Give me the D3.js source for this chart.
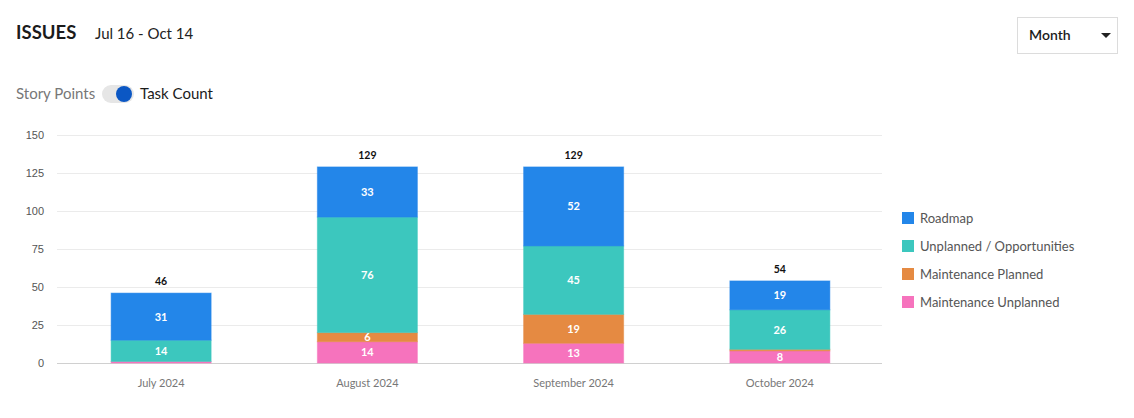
<!DOCTYPE html>
<html>
<head>
<meta charset="utf-8">
<script src="https://cdn.jsdelivr.net/npm/d3@7"></script>
<style>
  body { margin: 0; background: #fff; }
  svg { display: block; }
</style>
</head>
<body>
<div id="demo"></div>
<script>
// data
var months = ["July 2024", "August 2024", "September 2024", "October 2024"];
var seriesNames = ["Maintenance Unplanned", "Maintenance Planned", "Unplanned / Opportunities", "Roadmap"];
var maintenanceUnplanned = [1, 14, 13, 8];
var maintenancePlanned = [0, 6, 19, 1];
var unplannedOpportunities = [14, 76, 45, 26];
var roadmap = [31, 33, 52, 19];
var yTicks = [0, 25, 50, 75, 100, 125, 150];
var legendOrder = ["Roadmap", "Unplanned / Opportunities", "Maintenance Planned", "Maintenance Unplanned"];

var colors = {
  "Roadmap": "#2386e9",
  "Unplanned / Opportunities": "#3cc7be",
  "Maintenance Planned": "#e58a42",
  "Maintenance Unplanned": "#f673bd"
};

var values = {
  "Maintenance Unplanned": maintenanceUnplanned,
  "Maintenance Planned": maintenancePlanned,
  "Unplanned / Opportunities": unplannedOpportunities,
  "Roadmap": roadmap
};

// table for the stack
var table = months.map(function(m, i) {
  var row = { month: m };
  seriesNames.forEach(function(s) { row[s] = values[s][i]; });
  return row;
});

var font = "Lato, 'Noto Sans', sans-serif";

var svg = d3.select("#demo").append("svg")
  .attr("width", 1134)
  .attr("height", 418);

// header
svg.append("text")
  .attr("x", 16).attr("y", 39)
  .attr("font-family", font).attr("font-size", 18.5).attr("font-weight", 700)
  .attr("fill", "#1b1b1b")
  .text("ISSUES");
svg.append("text")
  .attr("x", 95).attr("y", 39)
  .attr("font-family", font).attr("font-size", 15)
  .attr("fill", "#222")
  .text("Jul 16 - Oct 14");

// toggle
svg.append("text")
  .attr("x", 16).attr("y", 99)
  .attr("font-family", font).attr("font-size", 15)
  .attr("fill", "#777")
  .text("Story Points");
svg.append("rect")
  .attr("x", 102).attr("y", 85)
  .attr("width", 32).attr("height", 18).attr("rx", 9)
  .attr("fill", "#e6e6e6");
svg.append("circle")
  .attr("cx", 124).attr("cy", 94).attr("r", 8)
  .attr("fill", "#0b57c4");
svg.append("text")
  .attr("x", 140).attr("y", 99)
  .attr("font-family", font).attr("font-size", 15)
  .attr("fill", "#1b1b1b")
  .text("Task Count");

// dropdown
svg.append("rect")
  .attr("x", 1017.5).attr("y", 17.5)
  .attr("width", 100).attr("height", 36)
  .attr("fill", "#fff").attr("stroke", "#dcdcdc");
svg.append("text")
  .attr("x", 1029).attr("y", 40)
  .attr("font-family", font).attr("font-size", 14).attr("font-weight", 600)
  .attr("fill", "#1b1b1b")
  .text("Month");
svg.append("path")
  .attr("d", "M1101,33 L1111,33 L1106,38 Z")
  .attr("fill", "#222");

// scales
var x = d3.scaleBand()
  .domain(months)
  .range([58, 883])
  .paddingInner(0.515)
  .paddingOuter(0.2575);

var y = d3.scaleLinear()
  .domain([0, 150])
  .range([363, 135]);

// grid
svg.append("g")
  .selectAll("line")
  .data(yTicks)
  .enter()
  .append("line")
  .attr("x1", 57).attr("x2", 882)
  .attr("y1", function(d) { return y(d) + 0.5; })
  .attr("y2", function(d) { return y(d) + 0.5; })
  .attr("stroke", function(d) { return d === 0 ? "#d0d0d0" : "#ebebeb"; })
  .attr("stroke-width", 1);

// y axis labels
var yAxis = svg.append("g")
  .attr("transform", "translate(52,0)")
  .call(d3.axisLeft(y).tickValues(yTicks).tickSize(0).tickPadding(8));
yAxis.select(".domain").remove();
yAxis.selectAll("text")
  .attr("font-family", "'Liberation Sans', Arial, sans-serif")
  .attr("font-size", 11)
  .attr("fill", "#555");

// x axis labels
var xAxis = svg.append("g")
  .attr("transform", "translate(0,373)")
  .call(d3.axisBottom(x).tickSize(0).tickPadding(6));
xAxis.select(".domain").remove();
xAxis.selectAll("text")
  .attr("font-family", font)
  .attr("font-size", 11)
  .attr("fill", "#777");

// stacked bars
var stack = d3.stack().keys(seriesNames);
var layers = stack(table);

var layer = svg.selectAll(".layer")
  .data(layers)
  .enter()
  .append("g")
  .attr("class", "layer")
  .attr("fill", function(d) { return colors[d.key]; })
  .attr("stroke", function(d) { return colors[d.key]; });

layer.selectAll("rect")
  .data(function(d) { return d; })
  .enter()
  .append("rect")
  .attr("x", function(d) { return x(d.data.month); })
  .attr("y", function(d) { return y(d[1]); })
  .attr("width", x.bandwidth())
  .attr("height", function(d) { return y(d[0]) - y(d[1]); })
  .attr("stroke-opacity", 0.5)
  .attr("stroke-width", function(d) { return (d[1] - d[0]) > 0 ? 1 : 0; });

// segment labels
layer.selectAll("text")
  .data(function(d) { return d; })
  .enter()
  .filter(function(d) { return (d[1] - d[0]) >= 3; })
  .append("text")
  .attr("x", function(d) { return x(d.data.month) + x.bandwidth() / 2; })
  .attr("y", function(d) { return (y(d[0]) + y(d[1])) / 2 + 4; })
  .attr("text-anchor", "middle")
  .attr("font-family", font)
  .attr("font-size", 11)
  .attr("font-weight", 700)
  .attr("stroke", "none")
  .attr("fill", "#fff")
  .text(function(d) { return d[1] - d[0]; });

// totals
svg.selectAll(".total")
  .data(table)
  .enter()
  .append("text")
  .attr("class", "total")
  .attr("x", function(d) { return x(d.month) + x.bandwidth() / 2; })
  .attr("y", function(d) {
    var t = d3.sum(seriesNames, function(s) { return d[s]; });
    return y(t) - 8;
  })
  .attr("text-anchor", "middle")
  .attr("font-family", font)
  .attr("font-size", 10.5)
  .attr("font-weight", 700)
  .attr("fill", "#111")
  .text(function(d) { return d3.sum(seriesNames, function(s) { return d[s]; }); });

// legend
var legend = svg.selectAll(".legend")
  .data(legendOrder)
  .enter()
  .append("g")
  .attr("class", "legend")
  .attr("transform", function(d, i) { return "translate(902," + (212 + i * 28) + ")"; });

legend.append("rect")
  .attr("width", 12).attr("height", 12)
  .attr("fill", function(d) { return colors[d]; });

legend.append("text")
  .attr("x", 18).attr("y", 11)
  .attr("font-family", font)
  .attr("font-size", 13)
  .attr("fill", "#555")
  .text(function(d) { return d; });
</script>
</body>
</html>
